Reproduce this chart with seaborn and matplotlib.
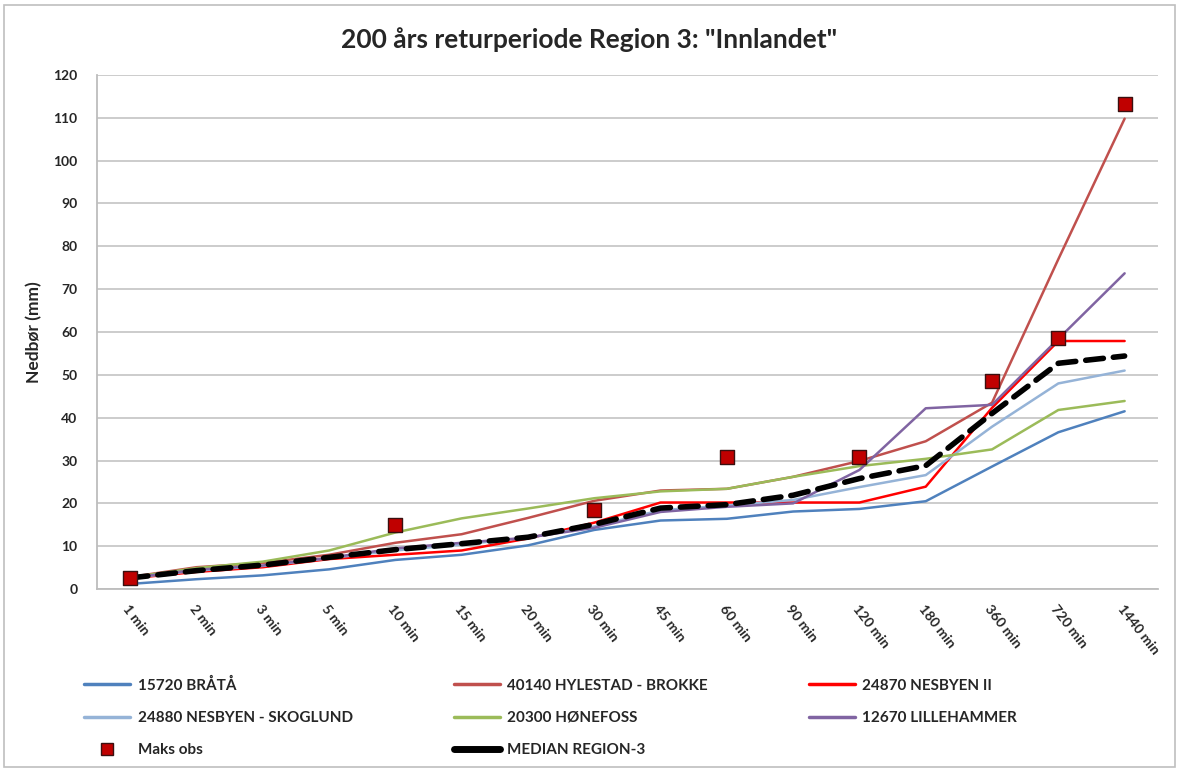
import numpy as np
import pandas as pd
import matplotlib
matplotlib.use("Agg")
import matplotlib.pyplot as plt
import seaborn as sns
from matplotlib.lines import Line2D
from matplotlib.patches import Rectangle

durations = ["1 min", "2 min", "3 min", "5 min", "10 min", "15 min", "20 min", "30 min",
             "45 min", "60 min", "90 min", "120 min", "180 min", "360 min", "720 min", "1440 min"]

bratta = [1.2, 2.3, 3.2, 4.6, 6.8, 8.0, 10.2, 13.8, 16.0, 16.4, 18.1, 18.7, 20.5, 28.6, 36.6, 41.5]
hylestad = [2.8, 5.1, 6.1, 8.0, 10.8, 12.8, 16.6, 20.6, 23.0, 23.4, 26.2, 29.9, 34.5, 43.5, 77.0, 109.8]
nesbyen2 = [2.5, 4.0, 5.1, 7.0, 8.0, 9.0, 11.8, 15.5, 20.2, 20.2, 20.2, 20.2, 23.9, 42.3, 57.9, 57.9]
skoglund = [2.6, 4.3, 5.4, 7.2, 9.0, 10.4, 12.0, 14.6, 18.4, 19.5, 20.8, 23.8, 26.6, 37.9, 48.0, 51.0]
honefoss = [2.7, 4.9, 6.4, 9.0, 13.2, 16.5, 18.8, 21.2, 22.8, 23.4, 26.2, 28.7, 30.4, 32.6, 41.8, 43.9]
lillehammer = [2.6, 4.5, 5.5, 7.3, 9.5, 10.8, 12.0, 14.3, 18.0, 19.2, 20.0, 27.8, 42.2, 43.0, 58.4, 73.7]
median = [2.6, 4.3, 5.6, 7.4, 9.2, 10.6, 12.1, 15.1, 18.9, 19.7, 21.9, 25.8, 28.8, 41.0, 52.7, 54.4]
maks_obs = [2.5, np.nan, np.nan, np.nan, 15.0, np.nan, np.nan, 18.5, np.nan, 30.8,
            np.nan, 30.8, np.nan, 48.5, 58.7, 113.3]

stations = ["15720 BRÅTÅ", "40140 HYLESTAD - BROKKE", "24870 NESBYEN II",
            "24880 NESBYEN - SKOGLUND", "20300 HØNEFOSS", "12670 LILLEHAMMER"]
station_values = [bratta, hylestad, nesbyen2, skoglund, honefoss, lillehammer]
colors = ["#4F81BD", "#C0504D", "#FF0000", "#95B3D7", "#9BBB59", "#8064A2"]

long = pd.DataFrame({
    "Varighet": durations * len(stations),
    "Nedbør": np.concatenate(station_values),
    "Stasjon": np.repeat(stations, len(durations)),
})
med_df = pd.DataFrame({"Varighet": durations, "Nedbør": median})
obs_df = pd.DataFrame({"Varighet": durations, "Nedbør": maks_obs}).dropna()

sns.set_style("white")
plt.rcParams["font.family"] = ["Lato", "DejaVu Sans"]

fig = plt.figure(figsize=(11.79, 7.69), dpi=100)
ax = fig.add_axes([0.0823, 0.234, 0.8997, 0.6685])

sns.lineplot(data=long, x="Varighet", y="Nedbør", hue="Stasjon", hue_order=stations,
             palette=colors, sort=False, linewidth=1.8, ax=ax, legend=False)
sns.lineplot(data=med_df, x="Varighet", y="Nedbør", sort=False, color="black",
             linewidth=4, dashes=False, ax=ax, legend=False)
ax.lines[-1].set_dashes([3.2, 1.8])
ax.lines[-1].set_dash_capstyle("round")
sns.scatterplot(data=obs_df, x="Varighet", y="Nedbør", marker="s", s=110,
                color="#C00000", edgecolor="#3a1010", linewidth=1, ax=ax, zorder=5, legend=False)

ax.set_xlim(-0.5, len(durations) - 0.5)
ax.set_ylim(0, 120)
ax.set_yticks(range(0, 121, 10))
ax.yaxis.grid(True, color="#c8c8c8", linewidth=1.3)
ax.set_axisbelow(True)
for s in ["top", "right"]:
    ax.spines[s].set_visible(False)
for s in ["left", "bottom"]:
    ax.spines[s].set_color("#bdbdbd")
    ax.spines[s].set_linewidth(1.3)
ax.tick_params(axis="both", length=0, labelsize=10)
ax.tick_params(axis="y", pad=14)
for lab in ax.get_yticklabels():
    lab.set_fontweight("bold")
ax.set_xticks(range(len(durations)))
ax.set_xticklabels(durations, rotation=-52, ha="left", rotation_mode="anchor",
                   fontweight="bold", fontsize=10)
ax.tick_params(axis="x", pad=10)
ax.set_xlabel("")
ax.set_ylabel("Nedbør (mm)", fontsize=12.5, fontweight="bold", labelpad=8)
fig.suptitle('200 års returperiode Region 3: "Innlandet"', x=0.5, y=0.965,
             fontsize=19, fontweight="bold")

handles = [Line2D([], [], color=c, linewidth=2.5) for c in colors]
handles.append(Line2D([], [], marker="s", linestyle="none", color="#C00000",
                      markeredgecolor="#3a1010", markersize=8))
handles.append(Line2D([], [], color="black", linewidth=5, solid_capstyle="round"))
labels = stations + ["Maks obs", "MEDIAN REGION-3"]
order = [0, 3, 6, 1, 4, 7, 2, 5]
fig.legend([handles[i] for i in order], [labels[i] for i in order], ncol=3,
           loc="upper left", bbox_to_anchor=(0.06, 0.137), frameon=False,
           prop={"weight": "bold", "size": 11}, handlelength=3.0, handletextpad=0.5,
           columnspacing=6.6, labelspacing=1.2)

fig.patches.append(Rectangle((0.003, 0.003), 0.994, 0.99, transform=fig.transFigure,
                             fill=False, edgecolor="#bfbfbf", linewidth=1.2))

fig.savefig("out.png", dpi=100)
